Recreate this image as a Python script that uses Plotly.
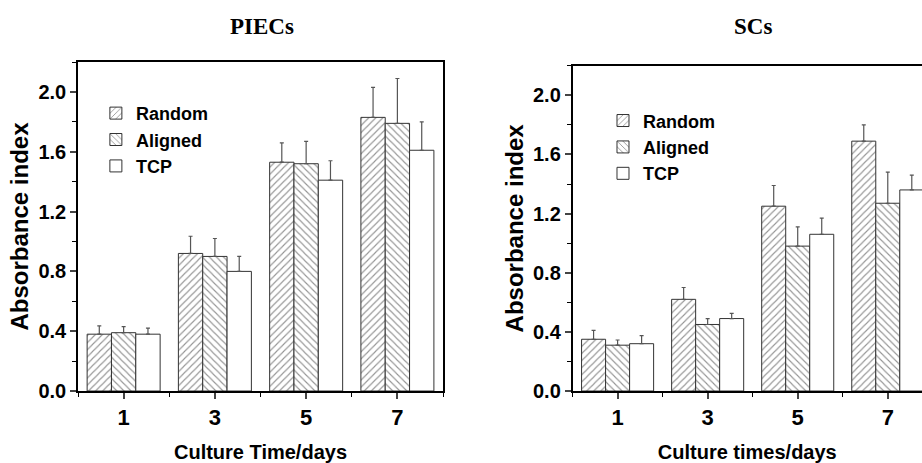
import plotly.graph_objects as go

days = [1, 3, 5, 7]
series_names = ["Random", "Aligned", "TCP"]

piecs_random = [0.38, 0.92, 1.53, 1.83]
piecs_random_err = [0.055, 0.115, 0.13, 0.20]
piecs_aligned = [0.39, 0.90, 1.52, 1.79]
piecs_aligned_err = [0.04, 0.12, 0.15, 0.30]
piecs_tcp = [0.38, 0.80, 1.41, 1.61]
piecs_tcp_err = [0.04, 0.10, 0.13, 0.19]

scs_random = [0.35, 0.62, 1.25, 1.69]
scs_random_err = [0.06, 0.08, 0.14, 0.11]
scs_aligned = [0.31, 0.45, 0.98, 1.27]
scs_aligned_err = [0.035, 0.04, 0.13, 0.21]
scs_tcp = [0.32, 0.49, 1.06, 1.36]
scs_tcp_err = [0.055, 0.035, 0.11, 0.10]

patterns = ["/", "\\", ""]

fig = go.Figure()

def add_panel(vals, errs, xa, ya, legend):
    for name, v, e, pat in zip(series_names, vals, errs, patterns):
        fig.add_trace(go.Bar(
            x=days, y=v, name=name,
            xaxis=xa, yaxis=ya, legend=legend,
            marker=dict(color="white",
                        line=dict(color="#333333", width=1),
                        pattern=dict(shape=pat, fgcolor="#2a2a2a", bgcolor="white",
                                     size=5, solidity=0.22)),
            error_y=dict(type="data", symmetric=False, array=e,
                         arrayminus=[0] * len(e), color="#555555",
                         thickness=1.2, width=2),
        ))

add_panel([piecs_random, piecs_aligned, piecs_tcp],
          [piecs_random_err, piecs_aligned_err, piecs_tcp_err], "x", "y", "legend")
add_panel([scs_random, scs_aligned, scs_tcp],
          [scs_random_err, scs_aligned_err, scs_tcp_err], "x2", "y2", "legend2")

axfont = "Liberation Sans, Arial, sans-serif"
common_x = dict(tickmode="array", tickvals=days, ticktext=[str(d) for d in days],
                ticks="outside", ticklen=6, tickwidth=1.5, showline=True,
                linecolor="black", linewidth=1.5, showgrid=False, zeroline=False,
                automargin=False,
                tickfont=dict(family=axfont, size=22, color="black", weight="bold"),
                minor=dict(dtick=1, tick0=0, ticks="outside", ticklen=4, tickwidth=1.2,
                           tickcolor="black", showgrid=False),
                title=dict(font=dict(family=axfont, size=20, color="black", weight="bold"),
                           standoff=16))
common_y = dict(range=[0, 2.2], tickmode="linear", tick0=0, dtick=0.4, tickformat=".1f",
                ticks="outside", ticklen=6, tickwidth=1.5, showline=True,
                linecolor="black", linewidth=1.5, showgrid=False, zeroline=False,
                automargin=False,
                tickfont=dict(family=axfont, size=20, color="black", weight="bold"),
                minor=dict(dtick=0.2, ticks="outside", ticklen=4, tickwidth=1.2,
                           tickcolor="black", showgrid=False),
                title=dict(text="Absorbance index",
                           font=dict(family=axfont, size=24, color="black", weight="bold"),
                           standoff=3))

title_font = dict(family="Liberation Serif, Times New Roman, serif", size=23,
                  color="black", weight="bold")
legend_font = dict(family=axfont, size=18, color="black", weight="bold")

fig.update_layout(
    width=922, height=463,
    margin=dict(l=0, r=0, t=0, b=0, autoexpand=False),
    paper_bgcolor="white", plot_bgcolor="white",
    barmode="group", bargap=0.2, bargroupgap=0,
    xaxis=dict(common_x, domain=[0.0846, 0.4805], range=[0, 8], mirror=True,
               title_text="Culture Time/days"),
    yaxis=dict(common_y, domain=[0.1555, 0.866], mirror=True, anchor="x"),
    xaxis2=dict(common_x, domain=[0.621, 1.0], range=[0, 7.76], mirror=True,
                anchor="y2", title_text="Culture times/days"),
    yaxis2=dict(common_y, domain=[0.1555, 0.858], mirror=False, anchor="x2"),
    legend=dict(x=0.104, y=0.795, xanchor="left", yanchor="top",
                bgcolor="rgba(0,0,0,0)", traceorder="normal", font=legend_font),
    legend2=dict(x=0.654, y=0.779, xanchor="left", yanchor="top",
                 bgcolor="rgba(0,0,0,0)", traceorder="normal", font=legend_font),
    annotations=[
        dict(text="PIECs", x=0.284, y=(463 - 26) / 463, xref="paper", yref="paper",
             xanchor="center", yanchor="middle", showarrow=False, font=title_font),
        dict(text="SCs", x=0.817, y=(463 - 26) / 463, xref="paper", yref="paper",
             xanchor="center", yanchor="middle", showarrow=False, font=title_font),
    ],
)

fig.write_html("out.html")
